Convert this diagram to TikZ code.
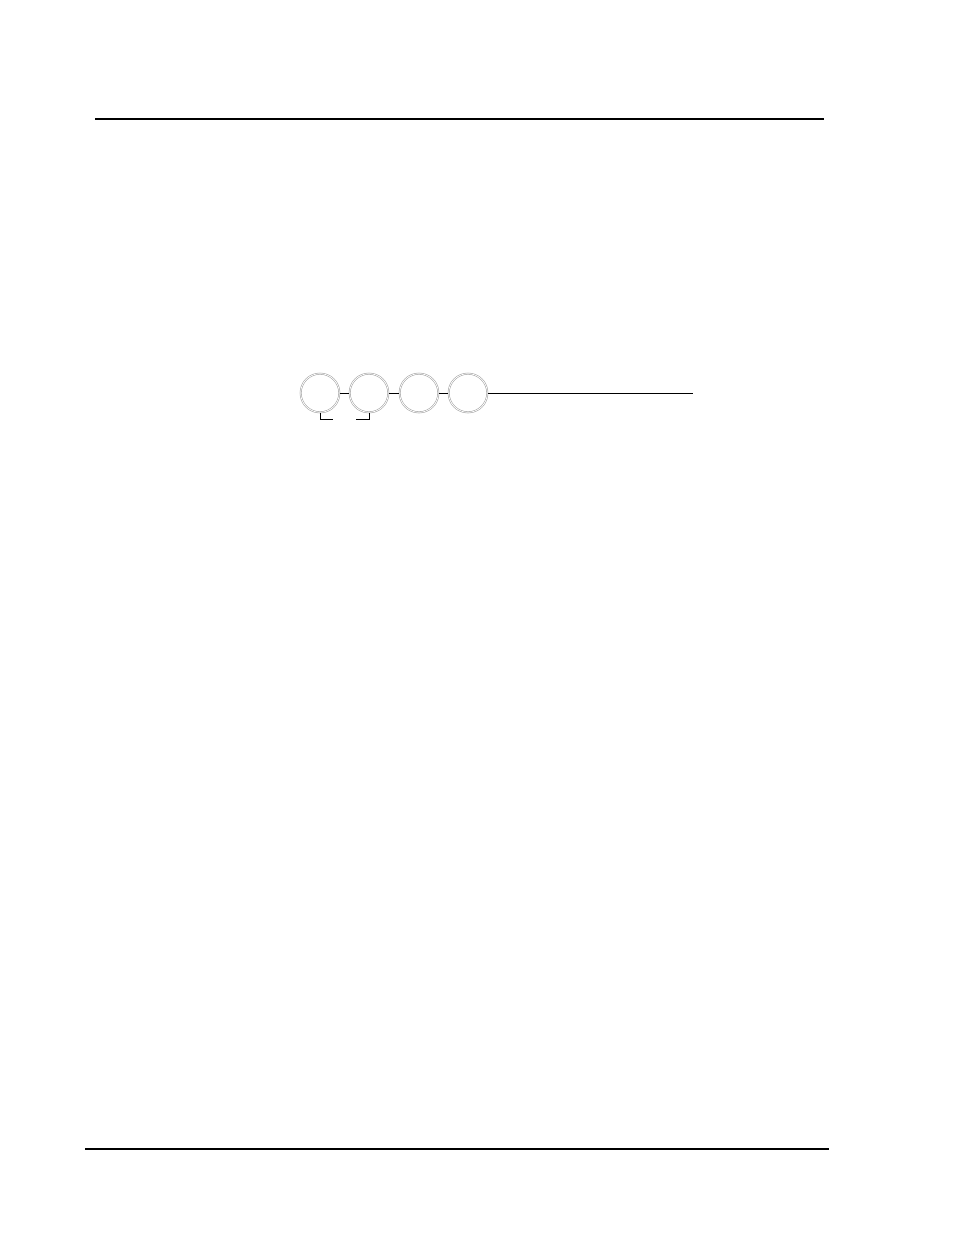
\documentclass[tikz,border=0pt]{standalone}
\usepackage{tikz}
\usetikzlibrary{positioning}
\tikzset{
  ring/.style={circle,draw=gray!75,double=white,double distance=0.6pt,line width=0.4pt,minimum size=29pt,inner sep=0pt},
  link/.style={draw=black,line width=0.6pt},
  rule/.style={draw=black,line width=2.2pt}
}

\begin{document}
\begin{tikzpicture}[x=0.75pt,y=-0.75pt]
  \useasboundingbox (0,0) rectangle (954,1235);
  \draw[rule] (95,119) -- (824,119);
  \draw[rule] (85,1149) -- (829,1149);
  \node[ring] (c1) at (320,393) {};
  \node[ring] (c2) at (369,393) {};
  \node[ring] (c3) at (419,393) {};
  \node[ring] (c4) at (468,393) {};
  \coordinate (tail) at (693,393);
  \draw[link] (c1) -- (c2);
  \draw[link] (c2) -- (c3);
  \draw[link] (c3) -- (c4);
  \draw[link] (c4) -- (tail);
  \coordinate (b1) at (333,419);
  \coordinate (b2) at (356,419);
  \draw[link] (c1.south) |- (b1);
  \draw[link] (c2.south) |- (b2);
\end{tikzpicture}
\end{document}
